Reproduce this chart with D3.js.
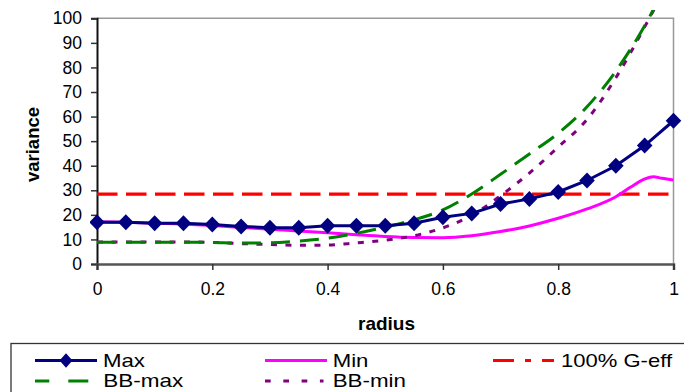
<!DOCTYPE html>
<html>
<head>
<meta charset="utf-8">
<script src="https://cdn.jsdelivr.net/npm/d3@7"></script>
<style>
  html, body { margin: 0; padding: 0; background: #fff; }
  svg { display: block; font-family: "Liberation Sans", Arial, sans-serif; }
</style>
</head>
<body>
<svg id="chart" width="684" height="392"></svg>
<script>
// Variance against radius for several estimators
const radius = [0, 0.05, 0.1, 0.15, 0.2, 0.25, 0.3, 0.35, 0.4, 0.45, 0.5,
                0.55, 0.6, 0.65, 0.7, 0.75, 0.8, 0.85, 0.9, 0.95, 1.0];
const maxVar = [17.0, 17.0, 16.6, 16.6, 16.1, 15.3, 14.8, 14.8, 15.6, 15.6, 15.6,
                16.6, 19.0, 20.6, 24.4, 26.5, 29.3, 34.0, 40.0, 48.2, 58.3];
const bbMaxVar = [8.9, 8.9, 8.9, 8.9, 8.8, 8.5, 8.6, 9.3, 10.5, 12.5, 15.0,
                  18.0, 22.0, 28.5, 36.5, 44.8, 53.2, 64.0, 78.5, 97.0, 120.0];
const bbMinVar = [9.0, 9.0, 9.0, 9.0, 8.8, 8.3, 7.9, 7.6, 7.7, 8.6, 9.7,
                  11.5, 14.7, 19.8, 27.8, 37.0, 47.6, 58.8, 75.8, 96.5, 119.0];
const minRadius = [0, 0.05, 0.1, 0.15, 0.2, 0.25, 0.3, 0.35, 0.4, 0.45, 0.5,
                   0.55, 0.6, 0.65, 0.7, 0.75, 0.8, 0.85, 0.9, 0.925, 0.95,
                   0.965, 0.98, 1.0];
const minVar = [17.2, 17.0, 16.6, 16.3, 15.6, 14.9, 14.1, 13.4, 12.7, 11.9, 11.2,
                10.8, 10.7, 11.5, 13.2, 15.5, 18.6, 22.4, 27.4, 31.2, 34.6,
                35.5, 34.9, 34.2];
const gEffRadius = [0, 1.0];
const gEffVar = [28.4, 28.4];

const xTicks = [0, 0.2, 0.4, 0.6, 0.8, 1];
const yTicks = [0, 10, 20, 30, 40, 50, 60, 70, 80, 90, 100];

const svg = d3.select("#chart");
const x = d3.scaleLinear().domain([0, 1]).range([97, 673.5]);
const y = d3.scaleLinear().domain([0, 100]).range([264, 18.3]);

// plot frame (top and right edges)
svg.append("path")
  .attr("d", `M${x(0)},${y(100)}H${x(1)}V${y(0)}`)
  .attr("fill", "none").attr("stroke", "#999").attr("stroke-width", 1.5);

// axes
const yAxis = svg.append("g")
  .attr("transform", `translate(${x(0)},0)`)
  .call(d3.axisLeft(y).tickValues(yTicks).tickSize(6).tickPadding(9).tickFormat(d3.format("d")));
const xAxis = svg.append("g")
  .attr("transform", `translate(0,${y(0)})`)
  .call(d3.axisBottom(x).tickValues(xTicks).tickSize(6).tickPadding(13).tickFormat(d => d === 0 || d === 1 ? String(d) : d3.format(".1f")(d)));

yAxis.select(".domain").attr("stroke", "#111").attr("stroke-width", 2);
yAxis.selectAll(".tick line").attr("stroke", "#333").attr("stroke-width", 1.5);
xAxis.select(".domain").attr("stroke", "#555").attr("stroke-width", 2.5);
xAxis.selectAll(".tick line").attr("stroke", "#333").attr("stroke-width", 1.5);
svg.selectAll(".tick text").attr("font-size", 17.5).attr("fill", "#000")
  .attr("font-family", "Liberation Sans, Arial, sans-serif");

// axis titles
svg.append("text")
  .attr("transform", "translate(39,144.5) rotate(-90)")
  .attr("text-anchor", "middle").attr("font-weight", "bold").attr("font-size", 18.5)
  .text("variance");
svg.append("text")
  .attr("x", 386.5).attr("y", 330)
  .attr("text-anchor", "middle").attr("font-weight", "bold").attr("font-size", 19)
  .text("radius");

// series
svg.append("clipPath").attr("id", "plotClip")
  .append("rect").attr("x", 90).attr("y", 10).attr("width", 594).attr("height", 262);
const plot = svg.append("g").attr("clip-path", "url(#plotClip)");

const smooth = d3.line().x(d => x(d[0])).y(d => y(d[1])).curve(d3.curveMonotoneX);
const straight = d3.line().x(d => x(d[0])).y(d => y(d[1]));

const zip = (a, b) => a.map((v, i) => [v, b[i]]);

plot.append("path").datum(zip(gEffRadius, gEffVar))
  .attr("d", straight).attr("fill", "none")
  .attr("stroke", "#ff0000").attr("stroke-width", 3.3).attr("stroke-dasharray", "20.5,8.5");

plot.append("path").datum(zip(minRadius, minVar))
  .attr("d", smooth).attr("fill", "none")
  .attr("stroke", "#ff00ff").attr("stroke-width", 3);

plot.append("path").datum(zip(radius, bbMinVar))
  .attr("d", smooth).attr("fill", "none")
  .attr("stroke", "#800080").attr("stroke-width", 3).attr("stroke-dasharray", "6,8.5");

plot.append("path").datum(zip(radius, bbMaxVar))
  .attr("d", smooth).attr("fill", "none")
  .attr("stroke", "#008000").attr("stroke-width", 3).attr("stroke-dasharray", "19,10");

plot.append("path").datum(zip(radius, maxVar))
  .attr("d", straight).attr("fill", "none")
  .attr("stroke", "#000080").attr("stroke-width", 3);

const diamond = (cx, cy, hw, hh) => `M${cx},${cy - hh}L${cx + hw},${cy}L${cx},${cy + hh}L${cx - hw},${cy}Z`;
plot.selectAll("path.marker").data(zip(radius, maxVar)).join("path")
  .attr("class", "marker")
  .attr("d", d => diamond(x(d[0]), y(d[1]), 7.8, 8))
  .attr("fill", "#000080");

// legend
const lg = svg.append("g");
lg.append("rect").attr("x", 11).attr("y", 343.5).attr("width", 700).attr("height", 80)
  .attr("fill", "#fff").attr("stroke", "#333").attr("stroke-width", 1.3);

const legendItems = [
  { name: "Max", color: "#000080", x0: 35, x1: 97, row: 0, dash: null, marker: true, tx: 103, tw: 42 },
  { name: "Min", color: "#ff00ff", x0: 265, x1: 327, row: 0, dash: null, tx: 332.7, tw: 35.7 },
  { name: "100% G-eff", color: "#ff0000", x0: 493, x1: 554, row: 0, dash: "21,11,6,11,12", tx: 561, tw: 111 },
  { name: "BB-max", color: "#008000", x0: 35, x1: 88.5, row: 1, dash: "14.3,19,20", tx: 103.3, tw: 80 },
  { name: "BB-min", color: "#800080", x0: 265, x1: 323.5, row: 1, dash: "5.7,12.6", tx: 332.7, tw: 73.3 }
];
const rowY = [360.5, 381];
legendItems.forEach(it => {
  const ly = rowY[it.row];
  lg.append("line")
    .attr("x1", it.x0).attr("x2", it.x1).attr("y1", ly).attr("y2", ly)
    .attr("stroke", it.color).attr("stroke-width", 3)
    .attr("stroke-dasharray", it.dash);
  if (it.marker) {
    lg.append("path").attr("d", diamond((it.x0 + it.x1) / 2, ly, 6.5, 7.3)).attr("fill", it.color);
  }
  lg.append("text")
    .attr("x", it.tx)
    .attr("y", ly + 6.2)
    .attr("font-size", 19).attr("fill", "#000")
    .attr("textLength", it.tw).attr("lengthAdjust", "spacingAndGlyphs")
    .text(it.name);
});
</script>
</body>
</html>
